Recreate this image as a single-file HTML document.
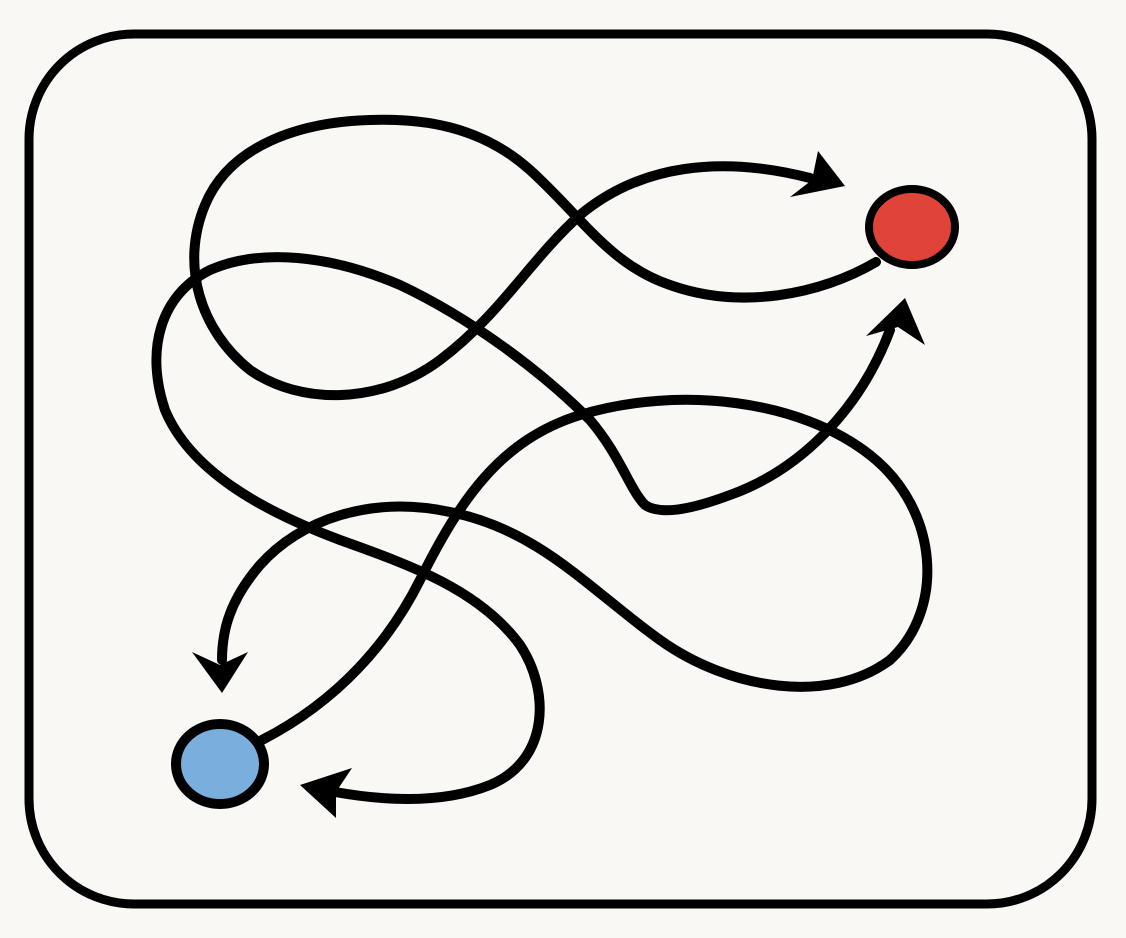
<!DOCTYPE html>
<html><head><style>html,body{margin:0;padding:0;background:#faf8f5;}svg{display:block}</style></head>
<body>
<svg width="1126" height="938" viewBox="0 0 1126 938" xmlns="http://www.w3.org/2000/svg">
<rect x="0" y="0" width="1126" height="938" fill="#faf8f5"/>
<rect x="29" y="34" width="1063" height="870" rx="105" ry="105" fill="#faf8f5" stroke="#000" stroke-width="9"/>
<g fill="none" stroke="#000" stroke-width="10" stroke-linecap="round" stroke-linejoin="round">
<!-- path 1: blue -> loop -> arrow down near blue -->
<path d="M262,740 C340,700 390,640 420,580 C460,500 500,440 580,415 C680,385 800,400 870,455 C940,510 945,610 890,660 C830,705 730,690 660,640 C590,590 540,530 450,512 C370,495 300,520 260,565 C230,600 222,630 222,660"/>
<!-- path 2: red -> loop -> arrow right toward red -->
<path d="M876,262 C820,295 740,310 670,285 C610,265 580,215 530,170 C480,125 420,118 370,120 C300,122 230,145 205,205 C180,265 200,330 250,370 C300,405 380,405 440,360 C500,315 530,260 580,215 C640,165 720,155 810,178"/>
<!-- path 3: arrow left near blue -> loop -> arrow up toward red -->
<path d="M335,792 C380,800 440,805 490,785 C550,760 550,690 520,645 C480,590 410,565 340,540 C260,510 190,470 165,410 C145,350 160,295 210,270 C260,248 330,255 400,285 C470,318 540,370 590,420 C620,455 630,490 645,505 C660,515 690,510 730,495 C800,470 860,410 890,330"/>
</g>
<g fill="#000">
<polygon points="845,186 790,197 812,180 818,151"/>
<polygon points="905,298 925,345 898,327 866,336"/>
<polygon points="222,693 192,652 220,665 248,652"/>
<polygon points="300,785 352,768 336,792 336,818"/>
</g>
<ellipse cx="912" cy="227" rx="43" ry="38" fill="#e04338" stroke="#000" stroke-width="8"/>
<ellipse cx="220" cy="764" rx="44" ry="40" fill="#7aaedc" stroke="#000" stroke-width="10"/>
</svg>
</body></html>
